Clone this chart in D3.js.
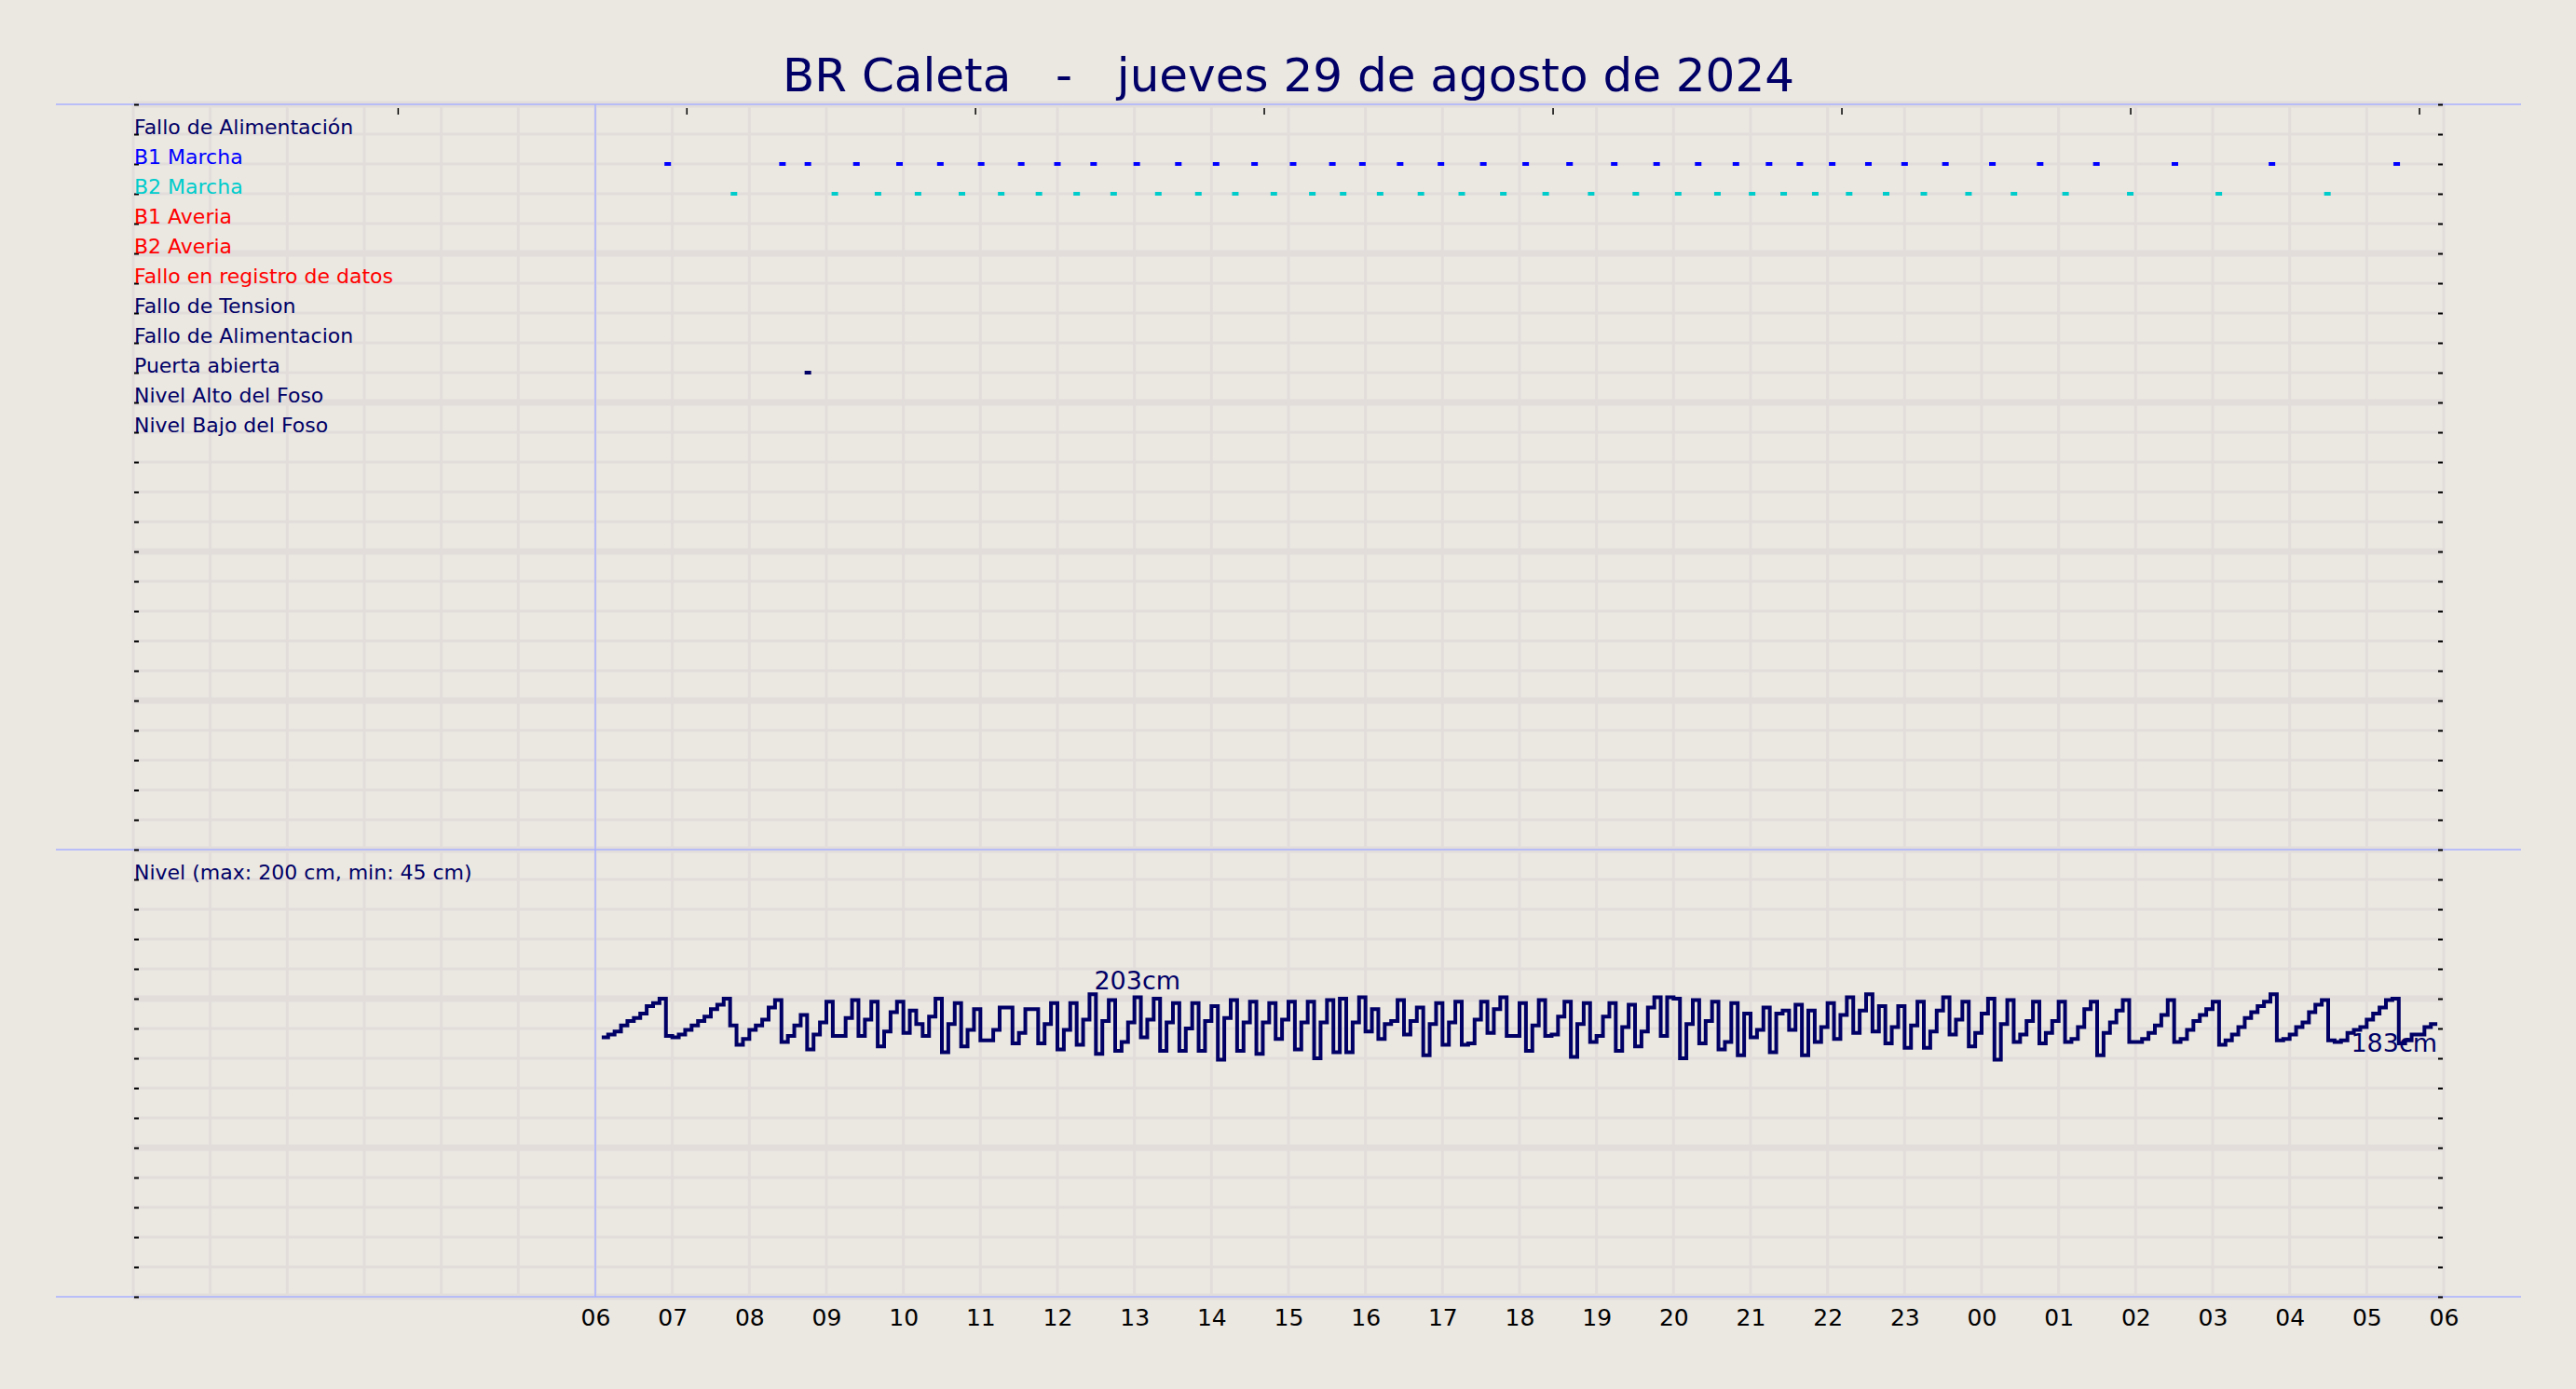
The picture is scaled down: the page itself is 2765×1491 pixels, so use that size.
<!DOCTYPE html>
<html>
<head>
<meta charset="utf-8">
<script src="https://cdn.jsdelivr.net/npm/d3@7"></script>
<style>
  body { margin:0; background:#ebe7e1; }
  text { font-family:"DejaVu Sans", sans-serif; }
</style>
</head>
<body>
<div id="grafico"></div>
<script>
// titulo
var titulo = "BR Caleta   -   jueves 29 de agosto de 2024";

// filas de señales (de arriba a abajo)
var filas = ["Fallo de Alimentación","B1 Marcha","B2 Marcha","B1 Averia","B2 Averia",
             "Fallo en registro de datos","Fallo de Tension","Fallo de Alimentacion",
             "Puerta abierta","Nivel Alto del Foso","Nivel Bajo del Foso"];
var coloresFilas = ["#000066","#0000ff","#00cccc","#ff0000","#ff0000","#ff0000",
                    "#000066","#000066","#000066","#000066","#000066"];

// eventos (hora del eje, 0 = 00:00 del dia anterior, 24 = 00:00)
var b1Marcha = [6.94,8.43,8.76,9.39,9.95,10.48,11.01,11.53,12.00,12.47,13.03,13.57,14.06,14.56,
                15.06,15.57,15.96,16.45,16.98,17.53,18.08,18.65,19.23,19.78,20.32,20.81,21.24,
                21.64,22.06,22.53,23.00,23.53,24.14,24.76,25.49,26.51,27.77,29.39];
var b2Marcha = [7.80,9.11,9.67,10.19,10.76,11.27,11.76,12.25,12.73,13.31,13.83,14.31,14.81,15.31,
                15.71,16.19,16.72,17.25,17.79,18.34,18.93,19.51,20.06,20.57,21.02,21.43,21.84,
                22.28,22.76,23.25,23.83,24.42,25.09,25.93,27.08,28.49];
var puertaAbierta = [8.76];

// nivel del foso (cm), una lectura cada 5 min desde las 06:05
var nivelInicio = 6 + 5/60;
var nivelPaso = 5/60;
var nivel = [
 174,176,178,182,185,187,190,195,197,200,
 175,174,176,179,182,185,188,193,196,200,
 182,169,173,179,182,186,194,199,171,175,
 182,189,166,176,184,198,175,175,187,199,
 175,186,198,168,178,191,198,177,192,183,
 175,188,200,164,183,197,168,179,193,172,
 172,179,194,194,170,177,193,193,170,183,
 197,166,179,197,169,186,203,163,185,199,
 165,171,184,201,174,186,200,165,184,197,
 165,180,197,165,185,195,159,187,199,165,
 184,198,163,184,197,173,186,198,166,184,
 198,160,184,199,164,200,164,184,201,178,
 193,173,183,185,199,176,185,194,162,183,
 197,169,184,198,169,170,186,198,177,193,
 201,175,175,197,165,182,199,175,176,188,
 198,161,183,197,171,175,188,197,165,181,
 196,168,178,194,201,175,201,200,160,183,
 199,170,185,198,166,171,197,162,190,174,
 179,194,164,190,192,179,196,162,192,171,
 181,197,173,189,201,177,192,203,178,195,
 170,181,195,167,182,198,167,178,192,201,
 176,186,198,168,177,190,200,159,183,199,
 171,176,185,198,170,177,185,198,171,173,
 181,193,198,162,177,184,192,199,171,171,
 173,177,182,189,199,171,173,179,185,189,
 193,198,169,172,176,181,187,191,195,198,
 203,172,173,176,181,184,191,196,199,172,
 171,172,177,179,181,186,190,194,199,200,
 170,172,176,176,181,183,183];
var etiquetaNivel = "Nivel (max: 200 cm, min: 45 cm)";

// marcas del eje superior
var ticksArriba = [3.434,7.183,10.931,14.68,18.43,22.18,25.93,29.68];
var horasEje = d3.range(6,31);

var width = 2765, height = 1491;
var izq = 143, der = 2623, arriba = 112, abajo = 1392;
var navy = "#000066";

var svg = d3.select("#grafico").append("svg")
  .attr("width",width).attr("height",height);

svg.append("rect").attr("width",width).attr("height",height).attr("fill","#ebe7e1");

var x = d3.scaleLinear().domain([0,30]).range([izq,der]);
var yFila = d3.scaleLinear().domain([0,40]).range([arriba,abajo]);
var yNivel = d3.scaleLinear().domain([0,300]).range([abajo,yFila(25)]);

// rejilla
var rejilla = svg.append("g").attr("stroke","#e2dddb");
rejilla.selectAll("line.h").data(d3.range(0,41)).enter().append("line")
  .attr("x1",izq).attr("x2",der)
  .attr("y1",function(d){return yFila(d);}).attr("y2",function(d){return yFila(d);})
  .attr("stroke-width",function(d){return d%5==0?7:3;});
rejilla.selectAll("line.v").data(d3.range(0,31)).enter().append("line")
  .attr("x1",function(d){return x(d);}).attr("x2",function(d){return x(d);})
  .attr("y1",arriba).attr("y2",abajo)
  .attr("stroke-width",3);

// lineas azules
var azul = svg.append("g").attr("stroke","#aab0ff").attr("stroke-width",1.5);
[arriba,yFila(25),abajo].forEach(function(yy){
  azul.append("line").attr("x1",60).attr("x2",2706).attr("y1",yy).attr("y2",yy);
});
azul.append("line").attr("x1",x(6)).attr("x2",x(6)).attr("y1",arriba).attr("y2",abajo);

// ticks izquierda / derecha / arriba
var filasTicks = d3.range(0,41);
var ejeIzq = svg.append("g").attr("transform","translate("+(izq+1)+",0)")
  .call(d3.axisLeft(yFila).tickValues(filasTicks).tickSize(-5).tickFormat(""));
var ejeDer = svg.append("g").attr("transform","translate("+(der-1)+",0)")
  .call(d3.axisRight(yFila).tickValues(filasTicks).tickSize(-5).tickFormat(""));
var ejeArr = svg.append("g").attr("transform","translate(0,116)")
  .call(d3.axisTop(x).tickValues(ticksArriba).tickSize(-7).tickFormat(""));
[ejeIzq,ejeDer,ejeArr].forEach(function(g){
  g.select(".domain").remove();
  g.selectAll(".tick line").attr("stroke","#000").attr("stroke-width",2);
});
ejeArr.selectAll(".tick line").attr("stroke-width",1.5);

// eje de horas
var ejeX = svg.append("g").attr("transform","translate(0,"+abajo+")")
  .call(d3.axisBottom(x).tickValues(horasEje).tickSize(0).tickPadding(13)
        .tickFormat(function(h){return d3.format("02d")(h%24);}));
ejeX.select(".domain").remove();
ejeX.selectAll("text").attr("font-size",25).attr("font-family","DejaVu Sans").attr("fill","#000");

// titulo
svg.append("text").attr("x",(izq+der)/2).attr("y",98)
  .attr("text-anchor","middle").attr("font-size",50).attr("fill",navy)
  .style("white-space","pre").text(titulo);

// nombres de filas
svg.append("g").selectAll("text").data(filas).enter().append("text")
  .attr("x",izq+1).attr("y",function(d,i){return yFila(i+1);})
  .attr("font-size",22).attr("fill",function(d,i){return coloresFilas[i];})
  .text(function(d){return d;});

svg.append("text").attr("x",izq+1).attr("y",yFila(26))
  .attr("font-size",22).attr("fill",navy).text(etiquetaNivel);

// marcas de eventos
function marcas(datos,fila,color){
  svg.append("g").attr("fill",color).selectAll("rect").data(datos).enter().append("rect")
    .attr("x",function(d){return x(d)-3.5;})
    .attr("y",yFila(fila)-2)
    .attr("width",7).attr("height",4);
}
marcas(b1Marcha,filas.indexOf("B1 Marcha")+1,"#0000ff");
marcas(b2Marcha,filas.indexOf("B2 Marcha")+1,"#00cccc");
marcas(puertaAbierta,filas.indexOf("Puerta abierta")+1,navy);

// curva de nivel
var puntos = nivel.map(function(v,i){return {h:nivelInicio+i*nivelPaso, v:v};});
var linea = d3.line().x(function(d){return x(d.h);}).y(function(d){return yNivel(d.v);})
  .curve(d3.curveStepAfter);
svg.append("path").datum(puntos).attr("d",linea)
  .attr("fill","none").attr("stroke",navy).attr("stroke-width",4)
  .attr("stroke-linejoin","miter");

// etiquetas de maximo y ultimo valor
var maxV = d3.max(nivel);
var pMax = puntos[nivel.indexOf(maxV)];
svg.append("text").attr("x",x(pMax.h)+5).attr("y",yNivel(pMax.v)-5)
  .attr("font-size",27).attr("fill",navy).text(maxV+"cm");
var pFin = puntos[puntos.length-1];
svg.append("text").attr("x",x(pFin.h)).attr("y",yNivel(pFin.v)+30)
  .attr("text-anchor","end").attr("font-size",27).attr("fill",navy).text(pFin.v+"cm");
</script>
</body>
</html>
